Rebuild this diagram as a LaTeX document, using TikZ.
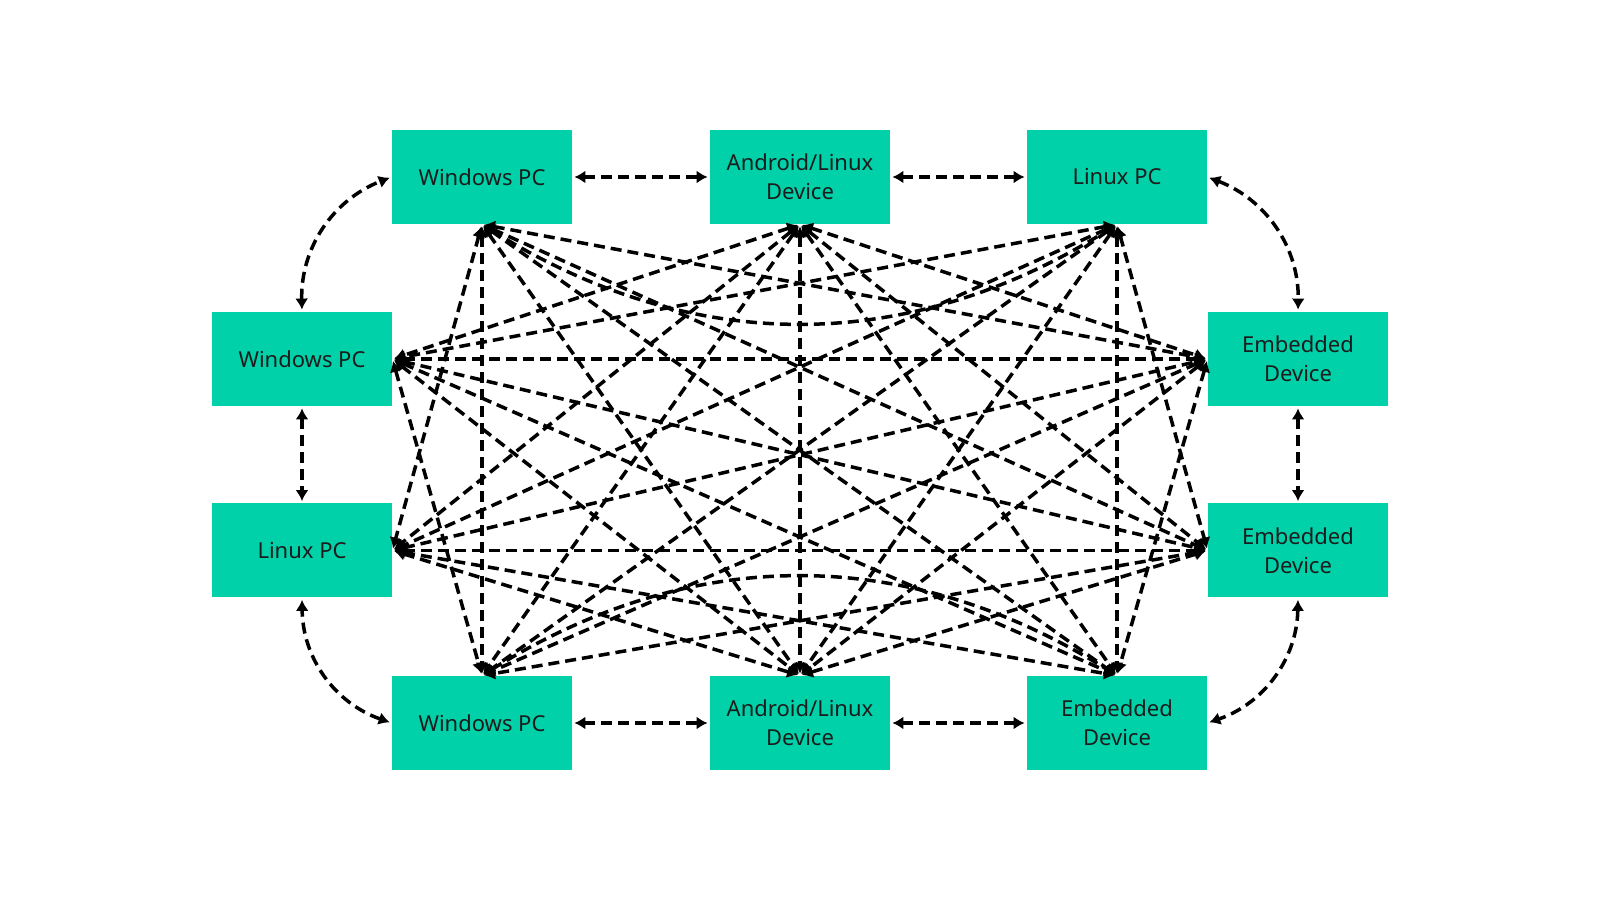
\documentclass[tikz,border=0pt]{standalone}
\usepackage{fontspec}
\setmainfont{Noto Sans}
\usetikzlibrary{arrows.meta}
\definecolor{boxgreen}{HTML}{00D1A9}
\definecolor{txtcol}{HTML}{1C1C1C}
\begin{document}
\begin{tikzpicture}[x=0.5pt,y=0.5pt,
  dev/.style={fill=boxgreen, draw=none, minimum width=90pt, minimum height=47pt,
    inner sep=0pt, align=center, text=txtcol, font=\fontsize{11}{14.5}\selectfont},
  link/.style={line width=1.75pt, dash pattern=on 5.5pt off 3pt,
    {Latex[length=5.5pt,width=6.5pt]}-{Latex[length=5.5pt,width=6.5pt]},
    shorten >=1pt, shorten <=1pt}
]
\useasboundingbox (0,0) rectangle (1600,900);
% nodes
\node[dev] (TW) at (482,723) {Windows PC};
\node[dev] (TA) at (800,723) {Android/Linux\\Device};
\node[dev] (TL) at (1117,723) {Linux PC};
\node[dev] (LW) at (302,541) {Windows PC};
\node[dev] (LL) at (302,349.5) {Linux PC};
\node[dev] (RE1) at (1298,541) {Embedded\\Device};
\node[dev] (RE2) at (1298,349.5) {Embedded\\Device};
\node[dev] (BW) at (482,177) {Windows PC};
\node[dev] (BA) at (800,177) {Android/Linux\\Device};
\node[dev] (BE) at (1117,177) {Embedded\\Device};
% ring connectors
\draw[link] (TW.east) -- (TA.west);
\draw[link] (TA.east) -- (TL.west);
\draw[link] (BW.east) -- (BA.west);
\draw[link] (BA.east) -- (BE.west);
\draw[link] (LW.south) -- (LL.north);
\draw[link] (RE1.south) -- (RE2.north);
\draw[link] (LW.north) to[bend left=35] (TW.west);
\draw[link] (TL.east) to[bend left=35] (RE1.north);
\draw[link] (RE2.south) to[bend left=35] (BE.east);
\draw[link] (BW.west) to[bend left=35] (LL.south);
% interior connectors
\draw[link] (TW.south) to[bend right=32] (TL.south);
\draw[link] (BW.north) to[bend left=32] (BE.north);
\foreach \a/\b in {TW.south/LL.east, TW.south/RE1.west, TW.south/RE2.west, TW.south/BW.north, TW.south/BA.north, TW.south/BE.north,
  TA.south/LW.east, TA.south/LL.east, TA.south/RE1.west, TA.south/RE2.west, TA.south/BW.north, TA.south/BA.north, TA.south/BE.north,
  TL.south/LW.east, TL.south/LL.east, TL.south/RE2.west, TL.south/BW.north, TL.south/BA.north, TL.south/BE.north,
  LW.east/RE1.west, LW.east/RE2.west, LW.east/BW.north, LW.east/BA.north, LW.east/BE.north,
  LL.east/RE1.west, LL.east/RE2.west, LL.east/BA.north, LL.east/BE.north,
  RE1.west/BW.north, RE1.west/BA.north, RE1.west/BE.north,
  RE2.west/BW.north, RE2.west/BA.north}
  \draw[link] (\a) -- (\b);
\end{tikzpicture}
\end{document}
